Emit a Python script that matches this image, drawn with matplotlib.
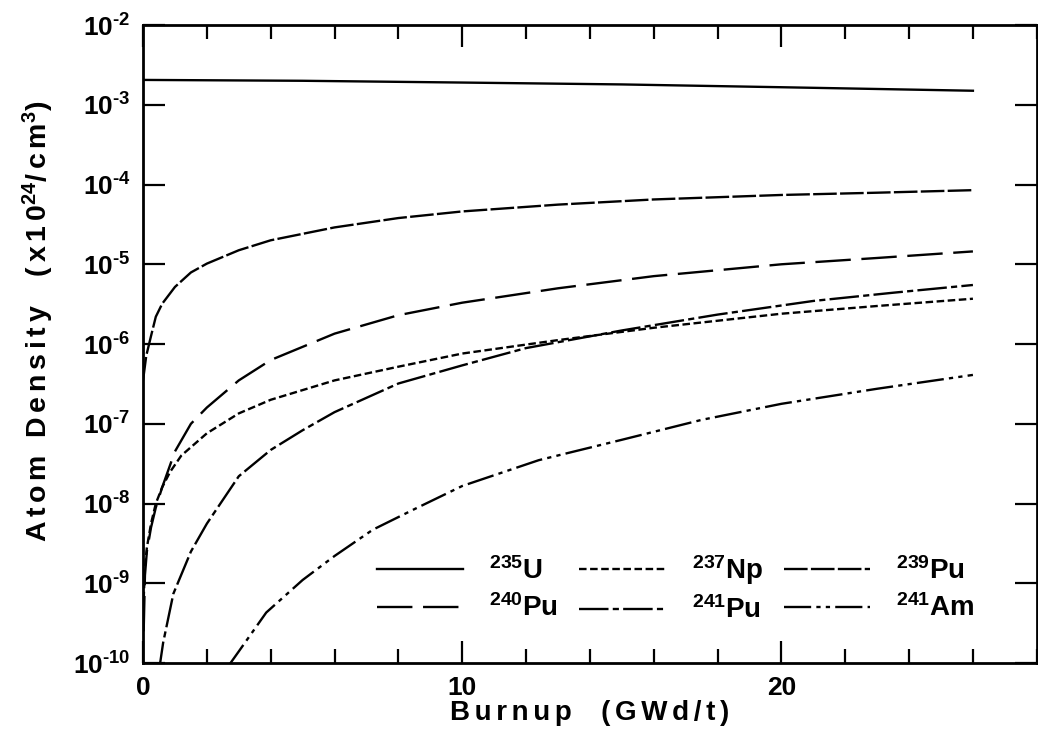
import matplotlib
matplotlib.use("Agg")
import matplotlib.pyplot as plt
from matplotlib.ticker import FixedLocator, MultipleLocator, NullLocator, FuncFormatter
import math

plt.rcParams['font.family'] = ['Liberation Sans', 'DejaVu Sans']
plt.rcParams['font.weight'] = 'bold'
plt.rcParams['mathtext.fontset'] = 'custom'
plt.rcParams['mathtext.rm'] = 'Liberation Sans:bold'
plt.rcParams['mathtext.it'] = 'Liberation Sans:bold'
plt.rcParams['mathtext.bf'] = 'Liberation Sans:bold'
plt.rcParams['axes.unicode_minus'] = False

# burnup (GWd/t) and atom density (x1e24 /cm3)
u235_x = [0.0, 5.0, 10.0, 15.0, 20.0, 26.0]
u235_y = [2.05e-3, 2.0e-3, 1.9e-3, 1.8e-3, 1.66e-3, 1.5e-3]

np237_x = [0.02, 0.06, 0.12, 0.25, 0.4, 0.6, 0.85, 1.2, 2.0, 3.0, 4.0, 6.0, 8.0, 10.0, 13.0, 16.0, 20.0, 23.0, 26.0]
np237_y = [6.3e-10, 1.6e-9, 2.8e-9, 5.6e-9, 1.0e-8, 1.6e-8, 2.5e-8, 4.0e-8, 7.6e-8, 1.35e-7, 2.0e-7,
           3.5e-7, 5.2e-7, 7.6e-7, 1.12e-6, 1.6e-6, 2.4e-6, 3.0e-6, 3.7e-6]

pu239_x = [0.0, 0.1, 0.25, 0.4, 0.6, 1.0, 1.5, 2.0, 3.0, 4.0, 6.0, 8.0, 10.0, 13.0, 16.0, 20.0, 23.0, 26.0]
pu239_y = [3.5e-7, 7.1e-7, 1.26e-6, 2.2e-6, 3.2e-6, 5.2e-6, 7.9e-6, 1.02e-5, 1.5e-5, 2.0e-5,
           2.9e-5, 3.8e-5, 4.6e-5, 5.6e-5, 6.5e-5, 7.4e-5, 7.9e-5, 8.5e-5]

pu240_x = [0.02, 0.06, 0.12, 0.25, 0.4, 0.6, 1.0, 1.5, 2.0, 3.0, 4.0, 6.0, 8.0, 10.0, 13.0, 16.0, 20.0, 23.0, 26.0]
pu240_y = [2.5e-10, 1.26e-9, 2.5e-9, 5.0e-9, 8.9e-9, 1.6e-8, 4.5e-8, 1.0e-7, 1.6e-7, 3.5e-7, 6.3e-7,
           1.35e-6, 2.3e-6, 3.3e-6, 5.0e-6, 7.1e-6, 1.0e-5, 1.2e-5, 1.45e-5]

pu241_x = [0.5, 0.63, 0.95, 1.5, 2.0, 3.0, 4.0, 5.0, 6.0, 8.0, 10.0, 12.0, 15.0, 18.0, 21.0, 23.5, 26.0]
pu241_y = [8.0e-11, 1.8e-10, 7.4e-10, 2.5e-9, 5.6e-9, 2.2e-8, 4.7e-8, 8.3e-8, 1.4e-7, 3.2e-7,
           5.4e-7, 8.9e-7, 1.48e-6, 2.34e-6, 3.47e-6, 4.4e-6, 5.5e-6]

am241_x = [2.65, 3.0, 3.86, 5.0, 6.0, 7.2, 8.5, 10.0, 12.4, 15.0, 17.5, 20.0, 23.0, 26.0]
am241_y = [8.9e-11, 1.4e-10, 4.3e-10, 1.1e-9, 2.2e-9, 4.7e-9, 8.5e-9, 1.66e-8, 3.5e-8, 6.3e-8,
           1.12e-7, 1.78e-7, 2.75e-7, 4.1e-7]

labels = [r'$^{235}$U', r'$^{237}$Np', r'$^{239}$Pu', r'$^{240}$Pu', r'$^{241}$Pu', r'$^{241}$Am']


def spaced(s, gap='\u2006'):
    # widen letter spacing a little (outside of math parts)
    out, in_math = [], False
    for i, c in enumerate(s):
        out.append(c)
        if c == '$':
            in_math = not in_math
        elif not in_math and i + 1 < len(s) and s[i + 1] != '$':
            out.append(gap)
    return ''.join(out)


def decade(v, pos):
    k = round(math.log10(v))
    return r'$10^{\text{-}%d}$' % -k


fig = plt.figure(figsize=(10.38, 7.45), dpi=100)
ax = fig.add_axes([0.1378, 0.110, 0.861, 0.8564])

lw = 1.7
l_u235, = ax.plot(u235_x, u235_y, color='black', lw=lw, linestyle='-')
l_np237, = ax.plot(np237_x, np237_y, color='black', lw=lw, linestyle=(0, (3.2, 1.5)))
l_pu239, = ax.plot(pu239_x, pu239_y, color='black', lw=lw, linestyle=(0, (10, 1.4)))
l_pu240, = ax.plot(pu240_x, pu240_y, color='black', lw=lw, linestyle=(0, (15, 4.5)))
l_pu241, = ax.plot(pu241_x, pu241_y, color='black', lw=lw, linestyle=(0, (12.5, 1.8, 2.6, 1.8)))
l_am241, = ax.plot(am241_x, am241_y, color='black', lw=lw, linestyle=(0, (11.5, 2.2, 1.8, 2.2, 1.8, 2.2)))

ax.set_yscale('log')
ax.set_xlim(0, 28)
ax.set_ylim(1e-10, 1e-2)

ax.xaxis.set_major_locator(FixedLocator([0, 10, 20]))
ax.xaxis.set_minor_locator(MultipleLocator(2))
ax.yaxis.set_major_locator(FixedLocator([10.0 ** k for k in range(-10, -1)]))
ax.yaxis.set_minor_locator(NullLocator())
ax.yaxis.set_major_formatter(FuncFormatter(decade))

ax.tick_params(which='both', direction='in', top=True, right=True, width=1.6, colors='black')
ax.tick_params(which='major', length=16, labelsize=19, pad=9)
ax.tick_params(which='minor', length=10)
for s in ax.spines.values():
    s.set_linewidth(2)

ax.set_xlabel(spaced('Burnup  (GWd/t)'), fontsize=20, fontweight='bold')
ax.xaxis.set_label_coords(0.5, -0.058)
ax.set_ylabel(spaced('Atom Density  (x10') + r'$^{24}$' + spaced('/cm') + r'$^{3}$' + ')',
              fontsize=20.5, fontweight='bold')
ax.yaxis.set_label_coords(-0.097, 0.536)

handles = [l_u235, l_pu240, l_np237, l_pu241, l_pu239, l_am241]
hlabels = [labels[0], labels[3], labels[1], labels[4], labels[2], labels[5]]
ax.legend(handles, hlabels, ncol=3, frameon=False, fontsize=20, handlelength=3.1,
          handletextpad=0.95, columnspacing=0.75, labelspacing=0.35, borderpad=0,
          loc='lower right', bbox_to_anchor=(0.946, 0.039))

fig.savefig('out.png', dpi=100)
